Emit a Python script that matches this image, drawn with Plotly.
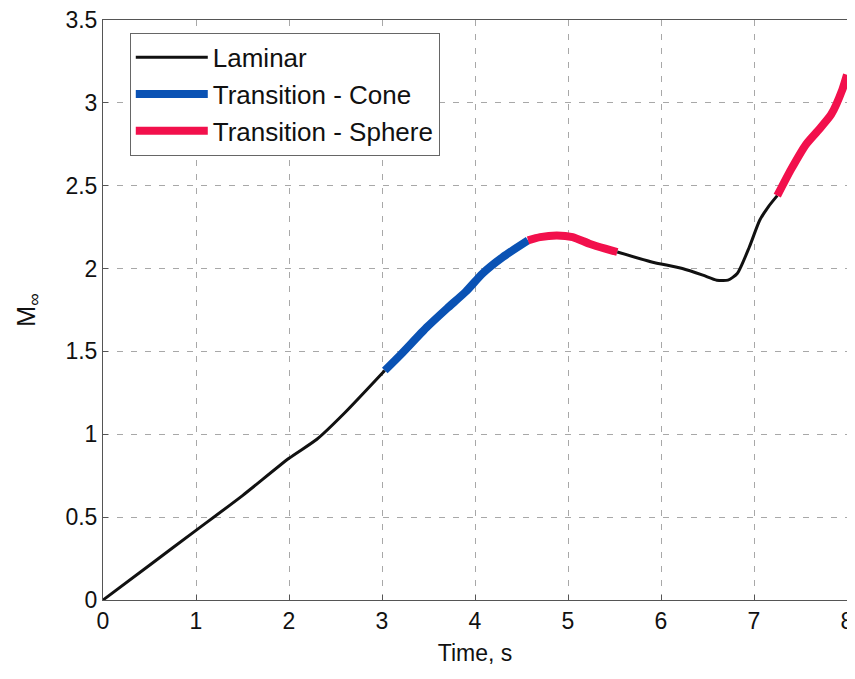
import plotly.graph_objects as go

# Laminar segments
lam1_t = [0, 0.5, 1.0, 1.5, 2.0, 2.3, 2.6, 3.03]
lam1_m = [0, 0.21, 0.42, 0.63, 0.855, 0.97, 1.13, 1.385]
lam2_t = [5.53, 5.9, 6.23, 6.45, 6.6, 6.72, 6.82, 6.95, 7.06, 7.15, 7.25]
lam2_m = [2.10, 2.04, 2.0, 1.96, 1.93, 1.93, 1.97, 2.13, 2.29, 2.37, 2.44]
# Transition - Cone
cone_t = [3.03, 3.2, 3.48, 3.7, 3.9, 4.08, 4.3, 4.57]
cone_m = [1.385, 1.48, 1.645, 1.76, 1.86, 1.97, 2.07, 2.17]
# Transition - Sphere segments
sph1_t = [4.57, 4.7, 4.88, 5.05, 5.23, 5.4, 5.53]
sph1_m = [2.17, 2.19, 2.2, 2.19, 2.15, 2.12, 2.10]
sph2_t = [7.25, 7.4, 7.56, 7.7, 7.83, 7.95, 8.0]
sph2_m = [2.44, 2.6, 2.75, 2.84, 2.93, 3.08, 3.17]

BLACK = "#111111"
BLUE = "#0a52b4"
RED = "#f2104c"
FONT = "Liberation Sans, Arial, sans-serif"

fig = go.Figure()
fig.add_trace(go.Scatter(x=lam1_t, y=lam1_m, mode="lines", name="Laminar",
                         line=dict(color=BLACK, width=3, shape="spline", smoothing=0.6),
                         legendgroup="lam"))
fig.add_trace(go.Scatter(x=cone_t, y=cone_m, mode="lines", name="Transition - Cone",
                         line=dict(color=BLUE, width=8, shape="spline", smoothing=0.6),
                         legendgroup="cone"))
fig.add_trace(go.Scatter(x=sph1_t, y=sph1_m, mode="lines", name="Transition - Sphere",
                         line=dict(color=RED, width=8, shape="spline", smoothing=0.6),
                         legendgroup="sph"))
fig.add_trace(go.Scatter(x=lam2_t, y=lam2_m, mode="lines", name="Laminar",
                         line=dict(color=BLACK, width=3, shape="spline", smoothing=0.6),
                         legendgroup="lam", showlegend=False))
fig.add_trace(go.Scatter(x=sph2_t, y=sph2_m, mode="lines", name="Transition - Sphere",
                         line=dict(color=RED, width=8, shape="spline", smoothing=0.6),
                         legendgroup="sph", showlegend=False))

axis_common = dict(
    showline=True, linecolor="#555555", linewidth=1, mirror=True,
    ticks="inside", ticklen=5, tickcolor="#555555",
    showgrid=True, gridcolor="#a8a8a8", griddash="6px,8px", gridwidth=1,
    zeroline=False, automargin=False, ticklabeloverflow="allow",
    tickfont=dict(family=FONT, size=23, color="#111111"),
)

# page body adds an 8px offset, so the figure is sized to fit inside the window
fig.update_layout(
    width=847, height=663,
    margin=dict(l=95, r=8, t=12, b=71),
    paper_bgcolor="white", plot_bgcolor="white",
    font=dict(family=FONT, size=23, color="#111111"),
    xaxis=dict(range=[0, 8], dtick=1,
               title=dict(text="Time, s", standoff=12, font=dict(family=FONT, size=23)),
               **axis_common),
    yaxis=dict(range=[0, 3.5], dtick=0.5,
               title=dict(text="M<sub>∞</sub>", standoff=22, font=dict(family=FONT, size=25)),
               **axis_common),
    legend=dict(x=0.036, y=0.978, xanchor="left", yanchor="top",
                bgcolor="white", bordercolor="#666666", borderwidth=1,
                font=dict(family=FONT, size=26, color="#111111"),
                tracegroupgap=0, itemwidth=72),
    showlegend=True,
)

fig.write_html("out.html")
